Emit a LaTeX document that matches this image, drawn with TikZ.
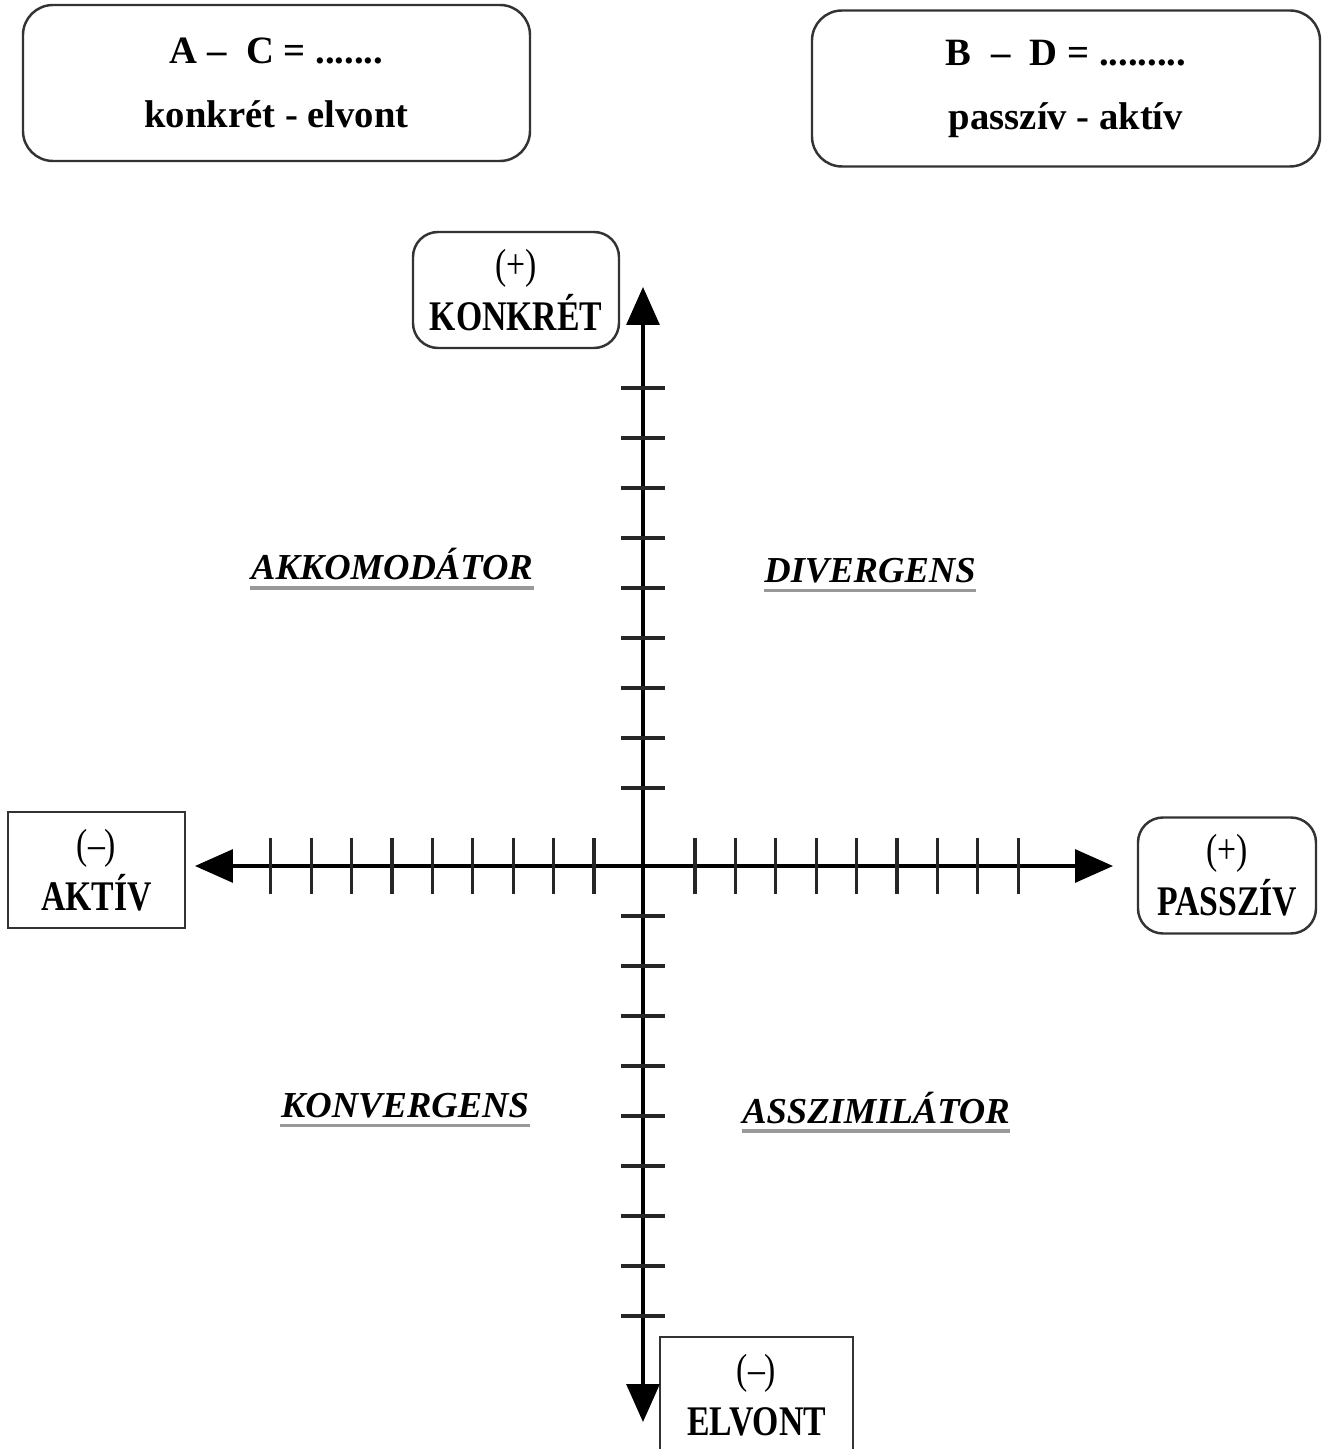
\documentclass[tikz,border=0pt]{standalone}
\usepackage{fontspec}
\setmainfont{Liberation Serif}
\newfontfamily\polefont[FakeStretch=0.8]{Liberation Serif}
\usetikzlibrary{arrows.meta}

\tikzset{
	infobox/.style={draw=black!80, line width=0.7pt, rounded corners=0.3cm, minimum height=1.56cm, align=center, font=\fontsize{11}{18.2}\selectfont\bfseries},
	polebox/.style={draw=black!80, line width=0.7pt, minimum height=1.16cm, inner sep=0pt, align=center, font=\polefont\fontsize{12}{14.8}\selectfont},
	quadlabel/.style={inner sep=0pt, anchor=base, font=\fontsize{10.4}{12}\selectfont\bfseries\itshape},
	quadline/.style={draw=black!40, line width=1.1pt},
	axisline/.style={line width=0.9pt, {Triangle[length=0.38cm,width=0.33cm]}-{Triangle[length=0.38cm,width=0.33cm]}},
	tickmark/.style={line width=0.9pt, black!85}
}

\begin{document}
\begin{tikzpicture}
				\useasboundingbox (-6.43,-5.83) rectangle (6.85,8.66);

				\node[infobox, minimum width=5.07cm] (ac) at (-3.665,7.83) {A –~~C = .......\\konkrét - elvont};
				\node[infobox, minimum width=5.08cm] (bd) at (4.23,7.775) {B ~–~~D = .........\\passzív - aktív};

				\node[polebox, rounded corners=0.25cm, minimum width=2.06cm] (konkret) at (-1.27,5.76) {(+)\\\textbf{KONKRÉT}};
				\node[polebox, minimum width=1.77cm] (aktiv) at (-5.465,-0.04) {(–)\\\textbf{AKTÍV}};
				\node[polebox, rounded corners=0.25cm, minimum width=1.78cm] (passziv) at (5.84,-0.095) {(+)\\\textbf{PASSZÍV}};
				\node[polebox, minimum width=1.93cm] (elvont) at (1.135,-5.29) {(–)\\\textbf{ELVONT}};

				\coordinate (O) at (0,0);
				\coordinate (top) at (0,5.79);
				\coordinate (bot) at (0,-5.56);
				\coordinate (lft) at (-4.48,0);
				\coordinate (rgt) at (4.70,0);
				\draw[axisline] (bot) -- (top);
				\draw[axisline] (lft) -- (rgt);
				\foreach \k in {0,...,8}{
					\draw[tickmark] (-0.22,{0.78+0.5*\k}) -- (0.22,{0.78+0.5*\k});
					\draw[tickmark] (-0.22,{-0.5-0.5*\k}) -- (0.22,{-0.5-0.5*\k});
					\draw[tickmark] ({-0.49-0.404*\k},-0.28) -- ++(0,0.56);
					\draw[tickmark] ({0.52+0.404*\k},-0.28) -- ++(0,0.56);
				}

				\node[quadlabel] (akko) at (-2.51,2.86) {AKKOMODÁTOR};
				\node[quadlabel] (div) at (2.27,2.835) {DIVERGENS};
				\node[quadlabel] (konv) at (-2.38,-2.515) {KONVERGENS};
				\node[quadlabel] (assz) at (2.33,-2.57) {ASSZIMILÁTOR};
				\foreach \q in {akko,div,konv,assz}
					\draw[quadline] ([yshift=-0.08cm]\q.base west) -- ([yshift=-0.08cm]\q.base east);
			\end{tikzpicture}
\end{document}
